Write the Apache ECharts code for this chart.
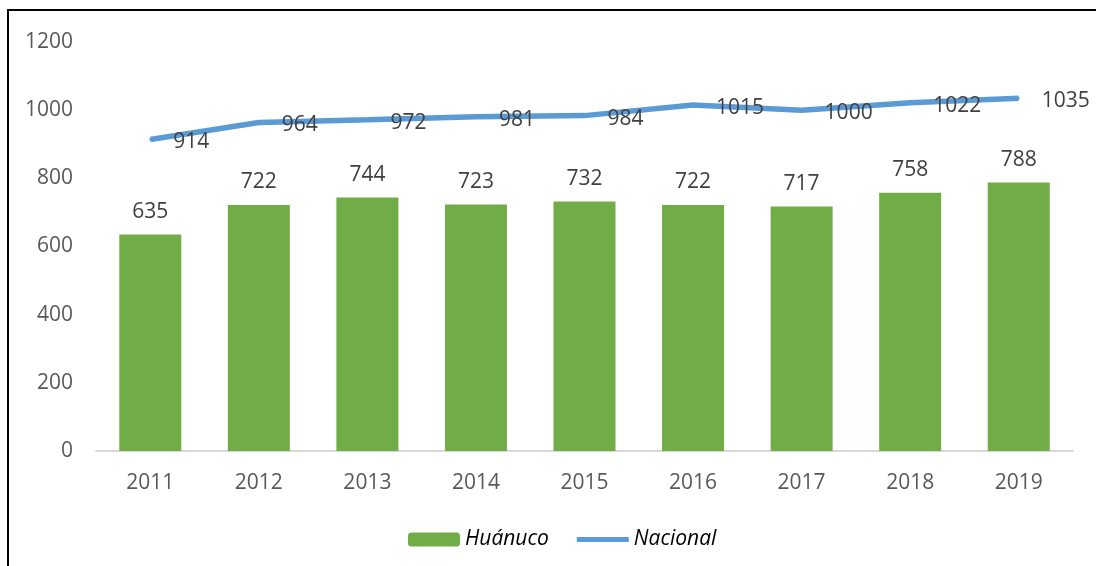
<!DOCTYPE html>
<html>
<head>
<meta charset="utf-8">
<script src="https://cdn.jsdelivr.net/npm/echarts@6/dist/echarts.min.js"></script>
<style>
  html, body { margin: 0; padding: 0; background: #fff; }
  #frame {
    position: absolute; left: 7px; top: 9px; width: 1100px; height: 600px;
    border-left: 2px solid #000; border-top: 2px solid #000;
  }
  #chart { position: absolute; left: 0; top: 0; width: 1096px; height: 566px; }
</style>
</head>
<body>
<div id="frame"></div>
<div id="chart"></div>
<script>
// años
const years = ['2011', '2012', '2013', '2014', '2015', '2016', '2017', '2018', '2019']
// valores por serie
const huanuco = [635, 722, 744, 723, 732, 722, 717, 758, 788]
const nacional = [914, 964, 972, 981, 984, 1015, 1000, 1022, 1035]

const font = 'Open Sans'
const myChart = echarts.init(document.getElementById('chart'))

const option = {
  animation: false,
  textStyle: { fontFamily: font },
  grid: { left: 96, right: 23, top: 42, bottom: 115 },
  legend: {
    left: 403,
    top: 524,
    itemWidth: 52,
    itemHeight: 14,
    itemGap: 28,
    textStyle: { fontSize: 21, fontStyle: 'italic', color: '#000', fontFamily: font },
    data: [
      { name: 'Huánuco' },
      { name: 'Nacional', icon: 'path://M0,0 L52,0 L52,5 L0,5 Z' }
    ]
  },
  xAxis: {
    type: 'category',
    data: years,
    axisLine: { lineStyle: { color: '#d9d9d9', width: 2 } },
    axisTick: { show: false },
    axisLabel: { fontSize: 21, color: '#595959', margin: 22 }
  },
  yAxis: {
    type: 'value',
    min: 0,
    max: 1200,
    interval: 200,
    splitLine: { show: false },
    axisLine: { show: false },
    axisTick: { show: false },
    axisLabel: { fontSize: 21, color: '#595959', margin: 23, formatter: v => String(v) }
  },
  series: [
    {
      name: 'Huánuco',
      type: 'bar',
      data: huanuco,
      barWidth: 62,
      itemStyle: { color: '#70AD47' },
      label: { show: true, position: 'top', distance: 12, fontSize: 21, color: '#404040' }
    },
    {
      name: 'Nacional',
      type: 'line',
      data: nacional,
      symbol: 'circle',
      symbolSize: 2,
      showSymbol: true,
      lineStyle: { color: '#5B9BD5', width: 5.5 },
      itemStyle: { color: '#5B9BD5' },
      label: { show: true, position: 'right', distance: 22, offset: [0, 3], fontSize: 21, color: '#404040' }
    }
  ]
}

myChart.setOption(option)
</script>
</body>
</html>
